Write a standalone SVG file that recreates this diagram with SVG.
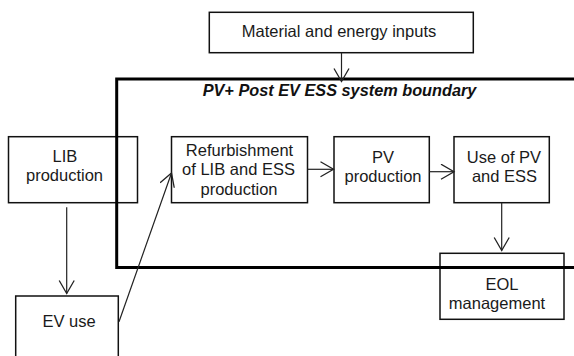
<svg xmlns="http://www.w3.org/2000/svg" width="574" height="356" viewBox="0 0 574 356">
  <style>
    .box { fill: none; stroke: #111; stroke-width: 1.5; }
    .lbl { font-family: "Liberation Sans", Arial, sans-serif; font-size: 16.5px; fill: #1a1a1a; text-anchor: middle; }
    .blbl { font-family: "Liberation Sans", Arial, sans-serif; font-size: 16.3px; font-weight: bold; font-style: italic; fill: #111; text-anchor: middle; }
    .conn { fill: none; stroke: #222; stroke-width: 1.2; marker-end: url(#arrow); }
    .bound { fill: none; stroke: #000; stroke-width: 3; }
  </style>
  <defs>
    <marker id="arrow" markerUnits="userSpaceOnUse" markerWidth="18" markerHeight="18" refX="14" refY="8" orient="auto">
      <path d="M1,0.5 L14,8 L1,15.5" fill="none" stroke="#222" stroke-width="1.3"/>
    </marker>
  </defs>
  <rect width="574" height="356" fill="#fff"/>

  <g id="node-material-inputs">
    <rect class="box" x="209.3" y="12.3" width="264" height="40.4"/>
    <text class="lbl" x="339" y="37.3">Material and energy inputs</text>
  </g>

  <g id="node-lib-production">
    <rect class="box" x="8.5" y="136.7" width="129" height="66"/>
    <text class="lbl" x="65" y="161.7">LIB</text>
    <text class="lbl" x="64.5" y="181">production</text>
  </g>

  <g id="node-refurbishment">
    <rect class="box" x="171.5" y="136.7" width="136" height="66"/>
    <text class="lbl" x="239.5" y="155.5">Refurbishment</text>
    <text class="lbl" x="238.5" y="175">of LIB and ESS</text>
    <text class="lbl" x="239" y="194.5">production</text>
  </g>

  <g id="node-pv-production">
    <rect class="box" x="334" y="136.7" width="95.3" height="66"/>
    <text class="lbl" x="383" y="162.5">PV</text>
    <text class="lbl" x="383" y="182">production</text>
  </g>

  <g id="node-use-pv-ess">
    <rect class="box" x="454" y="136.7" width="95.3" height="66"/>
    <text class="lbl" x="504" y="163">Use of PV</text>
    <text class="lbl" x="504.5" y="182.3">and ESS</text>
  </g>

  <g id="node-eol-management">
    <rect class="box" x="440" y="253.3" width="124" height="66"/>
    <text class="lbl" x="502" y="289.5">EOL</text>
    <text class="lbl" x="497" y="308.5">management</text>
  </g>

  <g id="node-ev-use">
    <rect class="box" x="15.7" y="296" width="102.6" height="80"/>
    <text class="lbl" x="69" y="326.5">EV use</text>
  </g>

  <g id="system-boundary">
    <path class="bound" d="M576,79 H116.7 V267.4 H576"/>
    <text class="blbl" x="339.5" y="96">PV+ Post EV ESS system  boundary</text>
  </g>

  <g id="connectors">
    <path class="conn" d="M341.5,52.7 V81.5"/>
    <path class="conn" d="M307.5,169.3 H333.5"/>
    <path class="conn" d="M429.3,171.7 H454"/>
    <path class="conn" d="M501.7,202.7 V250.5"/>
    <path class="conn" d="M66.7,207.3 V293.5"/>
    <path class="conn" d="M119,321.7 L171.5,173"/>
  </g>
</svg>
